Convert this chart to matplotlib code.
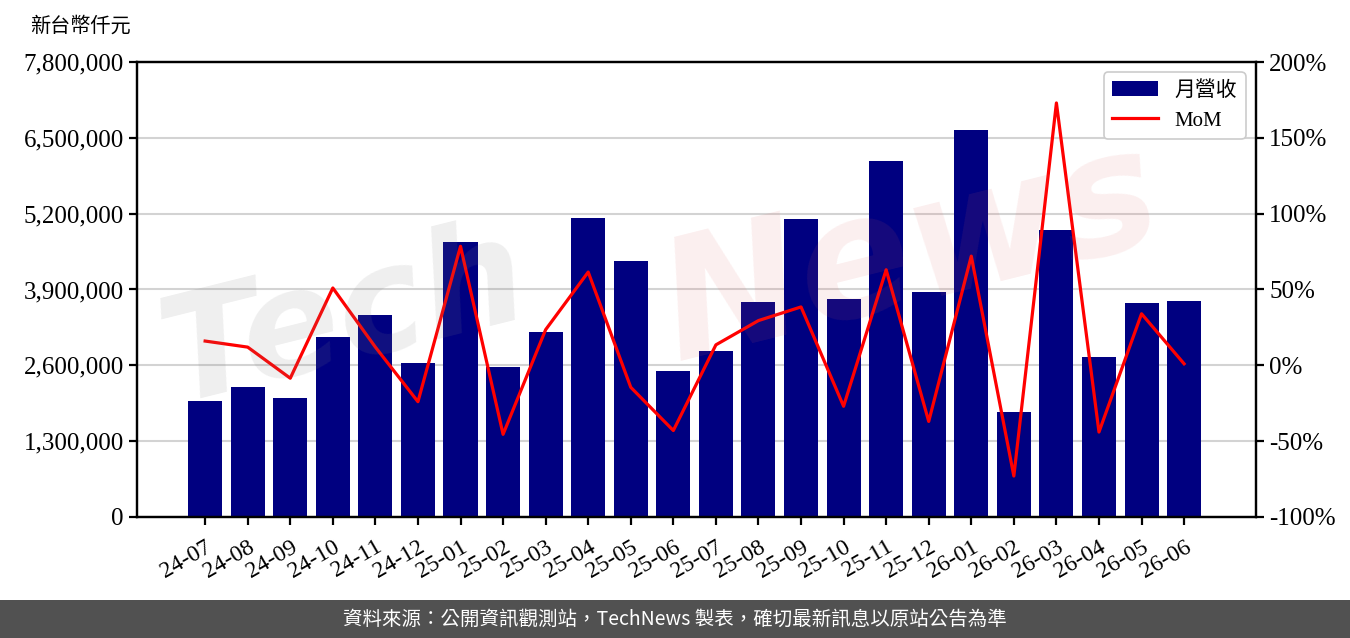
import matplotlib
matplotlib.use("Agg")
import matplotlib.pyplot as plt
from matplotlib.ticker import FuncFormatter, MultipleLocator
from matplotlib.patches import Rectangle

months = ["24-07", "24-08", "24-09", "24-10", "24-11", "24-12",
          "25-01", "25-02", "25-03", "25-04", "25-05", "25-06",
          "25-07", "25-08", "25-09", "25-10", "25-11", "25-12",
          "26-01", "26-02", "26-03", "26-04", "26-05", "26-06"]

revenue = [1988000, 2229000, 2040000, 3086000, 3463000, 2640000,
           4714000, 2571000, 3171000, 5126000, 4389000, 2503000,
           2846000, 3686000, 5109000, 3737000, 6103000, 3857000,
           6634000, 1800000, 4920000, 2743000, 3669000, 3703000]

mom = [16, 12, -8.5, 51, 12, -24,
       78.5, -45.5, 23.5, 61.5, -14.5, -43,
       13.5, 29.5, 38.5, -27, 63, -37,
       72, -73, 173, -44, 34, 1]

plt.rcParams['font.family'] = ['Liberation Serif', 'Noto Sans CJK TC']

fig = plt.figure(figsize=(13.5, 6.38), dpi=100)
ax = fig.add_axes([0.1015, 0.1897, 0.8289, 0.7131])
ax2 = ax.twinx()

x = list(range(len(months)))
bars = ax.bar(x, revenue, width=0.8, color='#000080', label='月營收', zorder=2)
line, = ax2.plot(x, mom, color='red', lw=2.3, label='MoM', zorder=3)

ax.set_xlim(-1.6, 24.69)
ax.set_ylim(0, 7800000)
ax.yaxis.set_major_locator(MultipleLocator(1300000))
ax.yaxis.set_major_formatter(FuncFormatter(lambda v, p: f"{int(v):,}"))
ax.grid(axis='y', color='#d3d3d3', lw=1.5, zorder=0)
ax.set_axisbelow(True)

ax2.set_ylim(-100, 200)
ax2.yaxis.set_major_locator(MultipleLocator(50))
ax2.yaxis.set_major_formatter(FuncFormatter(lambda v, p: f"{int(v)}%"))

ax.set_xticks(x)
ax.set_xticklabels(months, rotation=30, ha='right', rotation_mode='anchor')

for a in (ax, ax2):
    for s in a.spines.values():
        s.set_linewidth(1.6)
    a.tick_params(labelsize=18, width=1.6, length=6)
ax.tick_params(axis='x', labelsize=17, pad=8)

leg = ax2.legend([bars, line], ['月營收', 'MoM'], loc='upper right',
                 fontsize=15, edgecolor='#cccccc', framealpha=1,
                 handlelength=2.2)
leg.get_frame().set_linewidth(1.2)

# watermark
fig.text(0.255, 0.50, "Tech", fontsize=105, fontweight='bold', style='italic',
         color='#808080', alpha=0.13, rotation=14, ha='center', va='center',
         family='DejaVu Sans', zorder=10)
fig.text(0.675, 0.60, "News", fontsize=120, fontweight='bold', style='italic',
         color='#e06060', alpha=0.1, rotation=14, ha='center', va='center',
         family='DejaVu Sans', zorder=10)

fig.text(0.022, 0.958, "新台幣仟元", fontsize=14.5, ha='left', va='center')

# footer band
fig.patches.append(Rectangle((0, 0), 1, 38 / 638, transform=fig.transFigure,
                             facecolor='#515151', edgecolor='none', zorder=0))
fig.text(0.5, 19 / 638, "資料來源：公開資訊觀測站，TechNews 製表，確切最新訊息以原站公告為準",
         fontsize=14, color='white', ha='center', va='center',
         family=['Noto Sans CJK TC'])

fig.savefig("out.png", dpi=100)
